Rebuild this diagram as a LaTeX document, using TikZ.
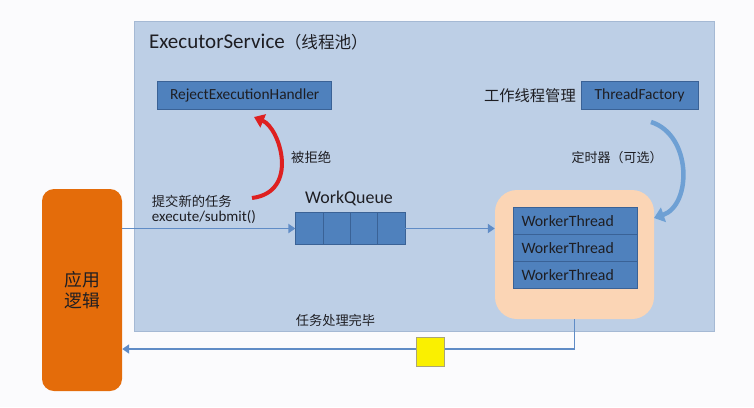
\documentclass[tikz,border=0pt]{standalone}
\usepackage{fontspec}
\setmainfont{Carlito}
\newfontfamily\cjk{Noto Sans CJK SC}
\usetikzlibrary{arrows.meta,calc}
\definecolor{bgc}{RGB}{251,251,253}
\definecolor{panel}{RGB}{189,207,230}
\definecolor{panelb}{RGB}{165,185,212}
\definecolor{dblue}{RGB}{79,129,189}
\definecolor{dblueb}{RGB}{58,98,150}
\definecolor{peach}{RGB}{251,213,181}
\definecolor{orng}{RGB}{228,108,10}
\definecolor{arrowc}{RGB}{96,140,198}
\definecolor{arcblue}{RGB}{110,160,212}
\definecolor{redarc}{RGB}{222,32,32}
\definecolor{ylw}{RGB}{250,240,0}
\definecolor{ylwb}{RGB}{170,165,120}
\definecolor{txt}{RGB}{30,30,35}
\begin{document}
\begin{tikzpicture}[x=1pt,y=-1pt,
  bluebox/.style={draw=dblueb, line width=0.6pt, fill=dblue, inner sep=0pt, text=txt},
  lbl/.style={inner sep=0pt, text=txt},
  flow/.style={draw=arrowc, line width=1.8pt, -{Triangle[width=9pt,length=7pt]}},
  rowbox/.style={bluebox, minimum height=26.87pt, text width=107pt, inner xsep=8.5pt, align=left, font=\fontsize{15.8}{18}\selectfont},
  cell/.style={bluebox, minimum width=27.33pt, minimum height=31.6pt}
]
\useasboundingbox (0,0) rectangle (754,407);
\fill[bgc] (0,0) rectangle (754,407);

% pool panel
\node[draw=panelb, fill=panel, line width=0.8pt, minimum width=579.5pt, minimum height=310pt, inner sep=0pt] (pool) at (424.25,176) {};
\node[lbl, anchor=west] (title) at (149,42) {{\fontsize{21}{24}\selectfont ExecutorService}{\cjk\fontsize{16.6}{20}\selectfont （线程池）}};

% top boxes
\node[bluebox, minimum width=174pt, minimum height=28.3pt, font=\fontsize{15.4}{18}\selectfont] (reject) at (244.7,95.2) {RejectExecutionHandler};
\node[bluebox, minimum width=117.3pt, minimum height=28.3pt, font=\fontsize{15.4}{18}\selectfont] (factory) at (639.65,95.2) {ThreadFactory};
\node[lbl, anchor=east, font=\cjk\fontsize{15.3}{18}\selectfont] (mgr) at (576,96) {工作线程管理};

% application logic
\node[fill=orng, rounded corners=12pt, minimum width=80pt, minimum height=202pt, inner sep=0pt, align=center, text=txt, font=\cjk\fontsize{17.8}{20.7}\selectfont] (app) at (82,290) {应用\\逻辑};

% work queue
\foreach \i in {1,...,4} \node[cell] (q\i) at ({295.7+27.33*(\i-0.5)},228.5) {};
\node[lbl, font=\fontsize{17.9}{20}\selectfont] (wq) at (349,198) {WorkQueue};

% worker area
\node[fill=peach, rounded corners=22pt, minimum width=159pt, minimum height=129pt, inner sep=0pt] (workers) at (574.5,254.5) {};
\node[rowbox] (w1) at (575,221.1) {WorkerThread};
\node[rowbox] (w2) at (575,248.0) {WorkerThread};
\node[rowbox] (w3) at (575,274.9) {WorkerThread};

% labels
\node[lbl, anchor=west, font=\cjk\fontsize{13.3}{16}\selectfont] (submit1) at (151.7,201.7) {提交新的任务};
\node[lbl, anchor=west, font=\fontsize{15}{18}\selectfont] (submit2) at (151.7,216.7) {execute/submit()};
\node[lbl, anchor=west, font=\cjk\fontsize{13.3}{16}\selectfont] (rejlbl) at (291,157) {被拒绝};
\node[lbl, font=\cjk\fontsize{13}{16}\selectfont] (timer) at (617,158) {定时器（可选）};
\node[lbl, font=\cjk\fontsize{13.2}{16}\selectfont] (done) at (335.5,320) {任务处理完毕};

% connectors
\draw[flow] (app.east |- q1.west) -- (q1.west);
\draw[flow] (q4.east) -- (q4.east -| workers.west);
\coordinate (ret) at (574.5,349);
\draw[flow] (workers.south) -- (ret) -- (ret -| app.east);
\node[fill=ylw, draw=ylwb, line width=0.6pt, minimum size=28.5pt, inner sep=0pt] (token) at (430.5,352) {};

% curved arrows
\coordinate (rs) at (252,198);
\coordinate (re) at (254,117);
\draw[redarc, line width=4pt, -{Triangle[width=14pt,length=10pt]}] (rs) .. controls (300,192) and (280,128) .. (re);
\coordinate (bs) at (651,122);
\coordinate (be) at (654,218);
\draw[arcblue, line width=4.5pt, -{Triangle[width=15pt,length=10pt]}] (bs) .. controls (692,135) and (692,205) .. (be);
\end{tikzpicture}
\end{document}
